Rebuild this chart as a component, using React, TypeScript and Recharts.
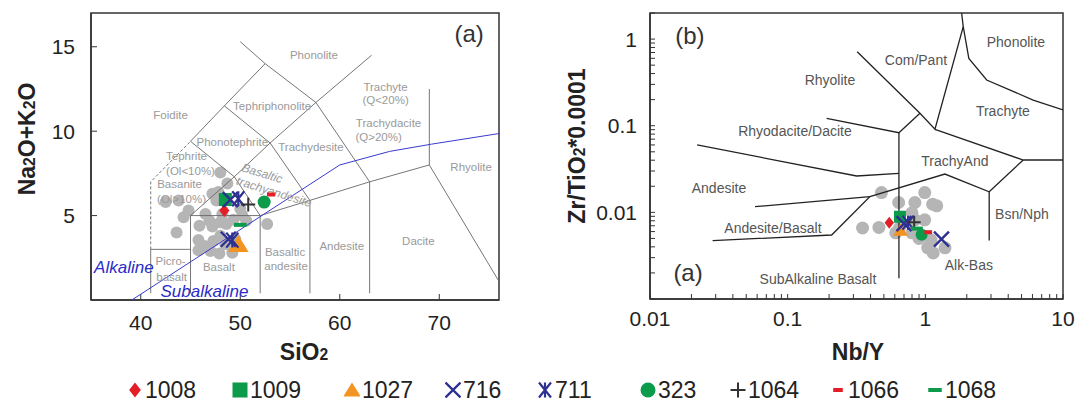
import React from 'react';
import { ScatterChart, Scatter, XAxis, YAxis, ReferenceArea } from 'recharts';

type Pt = { x: number; y: number };
type Lbl = { x: number; y: number; text: string };

// ---------- (a) TAS diagram: SiO2 vs Na2O+K2O ----------
const tasXTicks = [40, 50, 60, 70];
const tasYTicks = [5, 10, 15];

const tasGrey: Pt[] = [
  { x: 48.0, y: 7.55 }, { x: 48.7, y: 6.9 }, { x: 47.2, y: 6.3 }, { x: 47.8, y: 6.4 },
  { x: 47.6, y: 5.9 }, { x: 43.8, y: 5.9 }, { x: 42.5, y: 5.8 }, { x: 44.8, y: 5.3 },
  { x: 44.3, y: 4.9 }, { x: 46.5, y: 5.1 }, { x: 43.6, y: 4.0 }, { x: 47.2, y: 4.35 },
  { x: 48.0, y: 4.6 }, { x: 48.6, y: 4.5 }, { x: 49.3, y: 4.75 }, { x: 50.2, y: 5.0 },
  { x: 50.6, y: 4.7 }, { x: 52.7, y: 4.5 }, { x: 45.8, y: 3.55 }, { x: 46.4, y: 3.2 },
  { x: 47.3, y: 3.5 }, { x: 48.0, y: 3.8 }, { x: 45.8, y: 2.95 }, { x: 47.0, y: 2.9 },
  { x: 47.9, y: 2.75 }, { x: 48.5, y: 3.3 }, { x: 49.2, y: 2.8 }, { x: 49.5, y: 3.6 },
  { x: 46.9, y: 4.7 }, { x: 45.9, y: 4.4 }, { x: 48.2, y: 5.1 }, { x: 50.0, y: 5.4 },
];

const tas1008: Pt[] = [{ x: 48.4, y: 5.3 }];
const tas1009: Pt[] = [{ x: 48.5, y: 5.95 }];
const tas1027: Pt[] = [{ x: 49.8, y: 3.3 }];
const tas716: Pt[] = [{ x: 49.0, y: 5.95 }, { x: 48.8, y: 3.6 }];
const tas711: Pt[] = [{ x: 49.8, y: 6.0 }, { x: 49.2, y: 3.55 }];
const tas323: Pt[] = [{ x: 52.4, y: 5.8 }];
const tas1064: Pt[] = [{ x: 50.8, y: 5.65 }];
const tas1066: Pt[] = [{ x: 53.1, y: 6.25 }];
const tas1068: Pt[] = [{ x: 50.0, y: 4.45 }];

const tasFieldLines: Pt[][] = [
  [{ x: 41, y: 0.4 }, { x: 41, y: 3 }, { x: 45, y: 3 }],
  [{ x: 45, y: 0.4 }, { x: 45, y: 5 }, { x: 52, y: 5 }, { x: 52, y: 0.4 }],
  [{ x: 52, y: 5 }, { x: 57, y: 5.9 }, { x: 63, y: 7 }, { x: 69, y: 8 }, { x: 76, y: 1.1 }],
  [{ x: 57, y: 0.4 }, { x: 57, y: 5.9 }],
  [{ x: 63, y: 0.4 }, { x: 63, y: 7 }],
  [{ x: 69, y: 8 }, { x: 69, y: 12.5 }],
  [{ x: 45, y: 5 }, { x: 49.4, y: 7.3 }, { x: 52, y: 5 }],
  [{ x: 45, y: 9.4 }, { x: 49.4, y: 7.3 }, { x: 53, y: 9.3 }, { x: 57, y: 5.9 }],
  [{ x: 45, y: 9.4 }, { x: 48.4, y: 11.5 }, { x: 52.5, y: 14 }, { x: 57.6, y: 11.7 }, { x: 63, y: 7 }],
  [{ x: 48.4, y: 11.5 }, { x: 53, y: 9.3 }, { x: 57.6, y: 11.7 }],
  [{ x: 50, y: 15.3 }, { x: 52.5, y: 14 }],
  [{ x: 57.6, y: 11.7 }, { x: 63.2, y: 14.5 }],
];
const tasDashedLine: Pt[] = [{ x: 41, y: 3 }, { x: 41, y: 7 }, { x: 45, y: 9.4 }];
const tasAlkalineLine: Pt[] = [
  { x: 39.1, y: 0 }, { x: 60, y: 8 }, { x: 65, y: 8.8 }, { x: 69.2, y: 9.23 }, { x: 76, y: 9.86 },
];

const tasLabels: Lbl[] = [
  { x: 57.4, y: 14.5, text: 'Phonolite' },
  { x: 53.2, y: 11.5, text: 'Tephriphonolite' },
  { x: 43.0, y: 10.95, text: 'Foidite' },
  { x: 64.6, y: 12.6, text: 'Trachyte' },
  { x: 64.6, y: 11.83, text: '(Q<20%)' },
  { x: 64.9, y: 10.47, text: 'Trachydacite' },
  { x: 63.9, y: 9.64, text: '(Q>20%)' },
  { x: 49.2, y: 9.35, text: 'Phonotephrite' },
  { x: 57.1, y: 9.05, text: 'Trachydesite' },
  { x: 73.2, y: 7.87, text: 'Rhyolite' },
  { x: 44.6, y: 8.55, text: 'Tephrite' },
  { x: 45.0, y: 7.62, text: '(Ol<10%)' },
  { x: 43.9, y: 6.88, text: 'Basanite' },
  { x: 44.1, y: 6.0, text: '(Ol>10%)' },
  { x: 60.2, y: 3.2, text: 'Andesite' },
  { x: 67.9, y: 3.5, text: 'Dacite' },
  { x: 54.5, y: 2.84, text: 'Basaltic' },
  { x: 54.6, y: 2.0, text: 'andesite' },
  { x: 47.85, y: 1.95, text: 'Basalt' },
  { x: 43.0, y: 2.3, text: 'Picro-' },
  { x: 43.1, y: 1.36, text: 'basalt' },
];
const tasTiltLabels: Lbl[] = [
  { x: 52.2, y: 7.5, text: 'Basaltic' },
  { x: 53.4, y: 6.4, text: 'trachyandesite' },
];
const tasSeriesLabels: Lbl[] = [
  { x: 38.3, y: 1.9, text: 'Alkaline' },
  { x: 46.4, y: 0.53, text: 'Subalkaline' },
];
const tasTag: Lbl[] = [{ x: 73, y: 15.8, text: '(a)' }];

// ---------- (b) Winchester & Floyd: Nb/Y vs Zr/TiO2*0.0001 ----------
const wfXTicks = [
  0.01, 0.02, 0.03, 0.04, 0.05, 0.06, 0.07, 0.08, 0.09,
  0.1, 0.2, 0.3, 0.4, 0.5, 0.6, 0.7, 0.8, 0.9,
  1, 2, 3, 4, 5, 6, 7, 8, 9, 10,
];
const wfYTicks = [
  0.001, 0.002, 0.003, 0.004, 0.005, 0.006, 0.007, 0.008, 0.009,
  0.01, 0.02, 0.03, 0.04, 0.05, 0.06, 0.07, 0.08, 0.09,
  0.1, 0.2, 0.3, 0.4, 0.5, 0.6, 0.7, 0.8, 0.9, 1, 2,
];
const wfXLabeled = [0.01, 0.1, 1, 10];
const wfYLabeled = [0.01, 0.1, 1];

const wfGrey: Pt[] = [
  { x: 0.48, y: 0.0169 }, { x: 0.64, y: 0.013 }, { x: 0.84, y: 0.013 }, { x: 0.99, y: 0.0169 },
  { x: 1.21, y: 0.0119 }, { x: 1.13, y: 0.0124 }, { x: 0.35, y: 0.0066 }, { x: 0.46, y: 0.0067 },
  { x: 0.61, y: 0.0058 }, { x: 0.8, y: 0.0058 }, { x: 0.84, y: 0.0082 }, { x: 0.99, y: 0.0082 },
  { x: 0.8, y: 0.0099 }, { x: 1.04, y: 0.0039 }, { x: 1.14, y: 0.0034 }, { x: 1.39, y: 0.0039 },
  { x: 1.1, y: 0.0048 }, { x: 0.65, y: 0.0066 }, { x: 0.9, y: 0.005 },
];

const wf1008: Pt[] = [{ x: 0.547, y: 0.0076 }];
const wf1009: Pt[] = [{ x: 0.654, y: 0.0089 }];
const wf1027: Pt[] = [{ x: 0.66, y: 0.0062 }];
const wf716: Pt[] = [{ x: 0.7, y: 0.0074 }, { x: 1.31, y: 0.0049 }];
const wf711: Pt[] = [{ x: 0.75, y: 0.0076 }];
const wf323: Pt[] = [{ x: 0.94, y: 0.0055 }];
const wf1064: Pt[] = [{ x: 0.83, y: 0.0077 }];
const wf1066: Pt[] = [{ x: 1.05, y: 0.0059 }];
const wf1068: Pt[] = [{ x: 0.87, y: 0.0065 }];

const wfFieldLines: Pt[][] = [
  [{ x: 0.022, y: 0.06 }, { x: 0.317, y: 0.0263 }, { x: 0.643, y: 0.0282 }],
  [{ x: 0.643, y: 0.083 }, { x: 0.643, y: 0.00174 }],
  [{ x: 0.192, y: 0.1217 }, { x: 0.643, y: 0.083 }, { x: 0.914, y: 0.139 }],
  [{ x: 0.32, y: 0.714 }, { x: 0.914, y: 0.139 }, { x: 1.175, y: 0.091 }, { x: 1.885, y: 1.39 }, { x: 1.835, y: 2 }],
  [{ x: 1.885, y: 1.39 }, { x: 2.07, y: 0.599 }, { x: 2.79, y: 0.337 }, { x: 6.07, y: 0.198 }, { x: 10, y: 0.152 }],
  [{ x: 1.175, y: 0.091 }, { x: 5.14, y: 0.0402 }, { x: 10, y: 0.0402 }],
  [
    { x: 5.14, y: 0.0402 }, { x: 2.91, y: 0.0173 }, { x: 1.387, y: 0.0277 }, { x: 0.396, y: 0.0152 },
    { x: 0.2087, y: 0.00548 }, { x: 0.0285, y: 0.00472 },
  ],
  [{ x: 0.0579, y: 0.01164 }, { x: 0.396, y: 0.0152 }],
  [{ x: 2.91, y: 0.0173 }, { x: 2.91, y: 0.00472 }],
];

const wfLabels: Lbl[] = [
  { x: 0.203, y: 0.337, text: 'Rhyolite' },
  { x: 0.113, y: 0.0869, text: 'Rhyodacite/Dacite' },
  { x: 0.0317, y: 0.0191, text: 'Andesite' },
  { x: 0.0782, y: 0.0066, text: 'Andesite/Basalt' },
  { x: 0.166, y: 0.0017, text: 'SubAlkaline Basalt' },
  { x: 0.855, y: 0.573, text: 'Com/Pant' },
  { x: 4.55, y: 0.923, text: 'Phonolite' },
  { x: 3.66, y: 0.148, text: 'Trachyte' },
  { x: 1.64, y: 0.0392, text: 'TrachyAnd' },
  { x: 5.03, y: 0.0096, text: 'Bsn/Nph' },
  { x: 2.07, y: 0.00247, text: 'Alk-Bas' },
];
const wfTags: Lbl[] = [
  { x: 0.0195, y: 1.11, text: '(b)' },
  { x: 0.0189, y: 0.002, text: '(a)' },
];

// ---------- series styling ----------
const RED = '#e31e26';
const GREEN = '#0c9a4b';
const ORANGE = '#f39322';
const NAVY = '#2e3191';
const DARK = '#333333';

const legendItems = [
  { name: '1008', kind: 'diamond', color: RED, left: 127 },
  { name: '1009', kind: 'square', color: GREEN, left: 232 },
  { name: '1027', kind: 'triangle', color: ORANGE, left: 344 },
  { name: '716', kind: 'x', color: NAVY, left: 445 },
  { name: '711', kind: 'asterisk', color: NAVY, left: 537 },
  { name: '323', kind: 'circle', color: GREEN, left: 640 },
  { name: '1064', kind: 'plus', color: DARK, left: 730 },
  { name: '1066', kind: 'dashShort', color: RED, left: 830 },
  { name: '1068', kind: 'dash', color: GREEN, left: 927 },
];

function drawMarker(kind: string, color: string, cx: number, cy: number, s: number) {
  const h = s / 2;
  switch (kind) {
    case 'diamond':
      return <polygon points={`${cx},${cy - h} ${cx + h * 0.78},${cy} ${cx},${cy + h} ${cx - h * 0.78},${cy}`} fill={color} />;
    case 'square':
      return <rect x={cx - h} y={cy - h} width={s} height={s} fill={color} />;
    case 'triangle':
      return <polygon points={`${cx},${cy - h} ${cx + h * 1.15},${cy + h * 0.85} ${cx - h * 1.15},${cy + h * 0.85}`} fill={color} />;
    case 'x':
      return (
        <path d={`M${cx - h},${cy - h}L${cx + h},${cy + h}M${cx + h},${cy - h}L${cx - h},${cy + h}`} stroke={color} strokeWidth={2.4} fill="none" />
      );
    case 'asterisk':
      return (
        <path
          d={`M${cx - h * 0.8},${cy - h}L${cx + h * 0.8},${cy + h}M${cx + h * 0.8},${cy - h}L${cx - h * 0.8},${cy + h}M${cx},${cy - h}L${cx},${cy + h}`}
          stroke={color} strokeWidth={2.2} fill="none"
        />
      );
    case 'circle':
      return <circle cx={cx} cy={cy} r={h} fill={color} />;
    case 'plus':
      return <path d={`M${cx - h},${cy}L${cx + h},${cy}M${cx},${cy - h}L${cx},${cy + h}`} stroke={color} strokeWidth={2} fill="none" />;
    case 'dashShort':
      return <rect x={cx - s * 0.32} y={cy - 2} width={s * 0.64} height={4} fill={color} />;
    case 'dash':
      return <rect x={cx - s * 0.45} y={cy - 2} width={s * 0.9} height={4} fill={color} />;
    default:
      return <g />;
  }
}

const markerShape = (kind: string, color: string, s: number) => (p: any) => drawMarker(kind, color, p.cx, p.cy, s);
const greyDot = (r: number) => (p: any) => <circle cx={p.cx} cy={p.cy} r={r} fill="#b5b5b5" />;
const noMark = () => <g />;
const textShape = (fill: string, fontSize: number, italic = false, rotate = 0) => (p: any) => (
  <text
    x={p.cx}
    y={p.cy}
    textAnchor="middle"
    dominantBaseline="central"
    fill={fill}
    fontSize={fontSize}
    fontStyle={italic ? 'italic' : 'normal'}
    transform={rotate ? `rotate(${rotate} ${p.cx} ${p.cy})` : undefined}
  >
    {p.payload.text}
  </text>
);

const axisLine = { stroke: '#333', strokeWidth: 1.5 };
const tickLine = { stroke: '#333', strokeWidth: 1 };
const tickText = { fill: '#222', fontSize: 21 };

const sub = (t: string) => <span style={{ fontSize: '0.68em' }}>{t}</span>;

const App: React.FC = () => {
  const tasSeries: [Pt[], string, string, number][] = [
    [tas1008, 'diamond', RED, 13],
    [tas1009, 'square', GREEN, 13],
    [tas1027, 'triangle', ORANGE, 18],
    [tas716, 'x', NAVY, 15],
    [tas711, 'asterisk', NAVY, 15],
    [tas323, 'circle', GREEN, 13],
    [tas1064, 'plus', DARK, 14],
    [tas1066, 'dashShort', RED, 13],
    [tas1068, 'dash', GREEN, 14],
  ];
  const wfSeries: [Pt[], string, string, number][] = [
    [wf1008, 'diamond', RED, 12],
    [wf1009, 'square', GREEN, 12],
    [wf1027, 'triangle', ORANGE, 13],
    [wf716, 'x', NAVY, 15],
    [wf711, 'asterisk', NAVY, 14],
    [wf323, 'circle', GREEN, 12],
    [wf1064, 'plus', DARK, 13],
    [wf1066, 'dashShort', RED, 12],
    [wf1068, 'dash', GREEN, 13],
  ];

  return (
    <div
      style={{
        position: 'absolute', left: 0, top: 0, width: 1091, height: 402, background: '#fff',
        fontFamily: '"Liberation Sans", Arial, sans-serif', color: '#222',
      }}
    >
      {/* (a) TAS */}
      <div style={{ position: 'absolute', left: 0, top: 0 }}>
        <ScatterChart width={520} height={340} margin={{ top: 13, right: 21, bottom: 0, left: 0 }}>
          <XAxis
            type="number" dataKey="x" domain={[35, 76]} ticks={tasXTicks} interval={0} allowDataOverflow
            axisLine={axisLine} tickLine={tickLine} tickSize={-6} tickMargin={21} tick={tickText} height={40}
          />
          <YAxis
            type="number" dataKey="y" domain={[0, 17]} ticks={tasYTicks} interval={0} allowDataOverflow
            axisLine={axisLine} tickLine={tickLine} tickSize={-6} tickMargin={22} tick={tickText} width={91}
          />
          <ReferenceArea x1={35} x2={76} y1={0} y2={17} fill="none" stroke="#333" strokeWidth={1.5} />
          <Scatter data={tasGrey} shape={greyDot(6)} isAnimationActive={false} />
          {tasFieldLines.map((seg, i) => (
            <Scatter key={`tl${i}`} data={seg} line={{ stroke: '#666', strokeWidth: 0.9 }} shape={noMark} isAnimationActive={false} />
          ))}
          <Scatter data={tasDashedLine} line={{ stroke: '#666', strokeWidth: 0.9, strokeDasharray: '3 2' }} shape={noMark} isAnimationActive={false} />
          <Scatter data={tasAlkalineLine} line={{ stroke: '#3a3ad0', strokeWidth: 1 }} shape={noMark} isAnimationActive={false} />
          <Scatter data={tasLabels} shape={textShape('#9a9a9a', 11.5)} isAnimationActive={false} />
          <Scatter data={tasTiltLabels} shape={textShape('#9a9a9a', 12, true, 17)} isAnimationActive={false} />
          <Scatter data={tasSeriesLabels} shape={textShape('#2b2bc8', 17, true)} isAnimationActive={false} />
          <Scatter data={tasTag} shape={textShape('#333', 24)} isAnimationActive={false} />
          {tasSeries.map(([d, k, c, s], i) => (
            <Scatter key={`ts${i}`} data={d} shape={markerShape(k, c, s)} isAnimationActive={false} />
          ))}
        </ScatterChart>
      </div>

      {/* (b) Winchester & Floyd */}
      <div style={{ position: 'absolute', left: 560, top: 0 }}>
        <ScatterChart width={530} height={339} margin={{ top: 13, right: 27, bottom: 0, left: 0 }}>
          <XAxis
            type="number" dataKey="x" scale="log" domain={[0.01, 10]} ticks={wfXTicks} interval={0} allowDataOverflow
            tickFormatter={(v: number) => (wfXLabeled.includes(v) ? String(v) : '')}
            axisLine={axisLine} tickLine={tickLine} tickSize={-5} tickMargin={17} tick={tickText} height={40}
          />
          <YAxis
            type="number" dataKey="y" scale="log" domain={[0.001, 2]} ticks={wfYTicks} interval={0} allowDataOverflow
            tickFormatter={(v: number) => (wfYLabeled.includes(v) ? String(v) : '')}
            axisLine={axisLine} tickLine={tickLine} tickSize={-5} tickMargin={18} tick={tickText} width={90}
          />
          <ReferenceArea x1={0.01} x2={10} y1={0.001} y2={2} fill="none" stroke="#333" strokeWidth={1.5} />
          <Scatter data={wfGrey} shape={greyDot(6.5)} isAnimationActive={false} />
          {wfFieldLines.map((seg, i) => (
            <Scatter key={`wl${i}`} data={seg} line={{ stroke: '#222', strokeWidth: 1.3 }} shape={noMark} isAnimationActive={false} />
          ))}
          <Scatter data={wfLabels} shape={textShape('#555', 14)} isAnimationActive={false} />
          <Scatter data={wfTags} shape={textShape('#333', 24)} isAnimationActive={false} />
          {wfSeries.map(([d, k, c, s], i) => (
            <Scatter key={`ws${i}`} data={d} shape={markerShape(k, c, s)} isAnimationActive={false} />
          ))}
        </ScatterChart>
      </div>

      {/* axis titles */}
      <div style={{ position: 'absolute', left: 27, top: 139, transform: 'translate(-50%, -50%) rotate(-90deg)', whiteSpace: 'nowrap', fontWeight: 'bold', fontSize: 23 }}>
        Na{sub('2')}O+K{sub('2')}O
      </div>
      <div style={{ position: 'absolute', left: 304, top: 352, transform: 'translate(-50%, -50%)', whiteSpace: 'nowrap', fontWeight: 'bold', fontSize: 23 }}>
        SiO{sub('2')}
      </div>
      <div style={{ position: 'absolute', left: 577, top: 146, transform: 'translate(-50%, -50%) rotate(-90deg)', whiteSpace: 'nowrap', fontWeight: 'bold', fontSize: 23 }}>
        Zr/TiO{sub('2')}*0.0001
      </div>
      <div style={{ position: 'absolute', left: 858, top: 352, transform: 'translate(-50%, -50%)', whiteSpace: 'nowrap', fontWeight: 'bold', fontSize: 23 }}>
        Nb/Y
      </div>

      {/* legend */}
      {legendItems.map((it) => (
        <div key={it.name} style={{ position: 'absolute', left: it.left, top: 376, height: 28, display: 'flex', alignItems: 'center' }}>
          <svg width={16} height={18}>{drawMarker(it.kind, it.color, 8, 9, 15)}</svg>
          <span style={{ fontSize: 23, marginLeft: 2, color: '#222' }}>{it.name}</span>
        </div>
      ))}
    </div>
  );
};

export default App;
